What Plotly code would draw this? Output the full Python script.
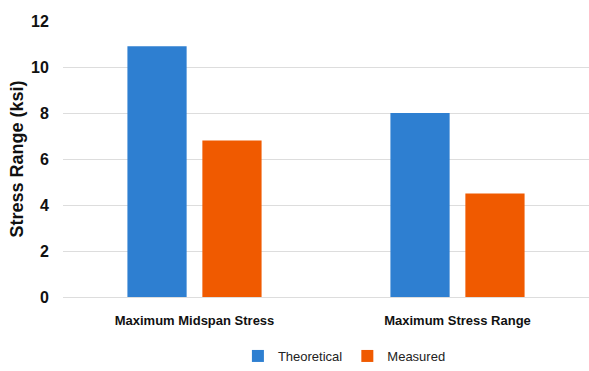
import plotly.graph_objects as go

categories = ["Maximum Midspan Stress", "Maximum Stress Range"]
theoretical = [10.9, 8.0]
measured = [6.8, 4.5]
y_ticks = [0, 2, 4, 6, 8, 10, 12]

BLUE = "#2E7FD1"
ORANGE = "#F05A00"
FONT = "Liberation Sans Narrow, Arial Narrow, Arial, sans-serif"

fig = go.Figure()
fig.add_trace(go.Bar(name="Theoretical", x=categories, y=theoretical,
                     marker=dict(color=BLUE, line=dict(width=0))))
fig.add_trace(go.Bar(name="Measured", x=categories, y=measured,
                     marker=dict(color=ORANGE, line=dict(width=0))))

fig.update_layout(
    width=589, height=371,
    margin=dict(l=63, r=0, t=21, b=73),
    paper_bgcolor="white", plot_bgcolor="white",
    barmode="group", bargap=0.43, bargroupgap=0.21,
    font=dict(family=FONT, color="#111111"),
    legend=dict(orientation="h", x=0.535, xanchor="center", y=-0.215, yanchor="middle",
                font=dict(family=FONT, size=13, color="#222222"),
                itemwidth=30, traceorder="normal"),
    xaxis=dict(tickfont=dict(family=FONT, size=13, color="#111111", weight="bold"),
               showgrid=False, showline=False, ticks="", ticklabelstandoff=14),
    yaxis=dict(range=[0, 12], tickvals=y_ticks, showgrid=True, gridcolor="#DDDDDD", gridwidth=1,
               zeroline=True, zerolinecolor="#DDDDDD", zerolinewidth=1,
               tickfont=dict(family=FONT, size=16, color="#111111", weight="bold"),
               ticks="outside", ticklen=10, tickcolor="rgba(0,0,0,0)",
               title=dict(text="Stress Range (ksi)", standoff=2,
                          font=dict(family=FONT, size=18, color="#111111", weight="bold"))),
)

fig.write_html("out.html")
